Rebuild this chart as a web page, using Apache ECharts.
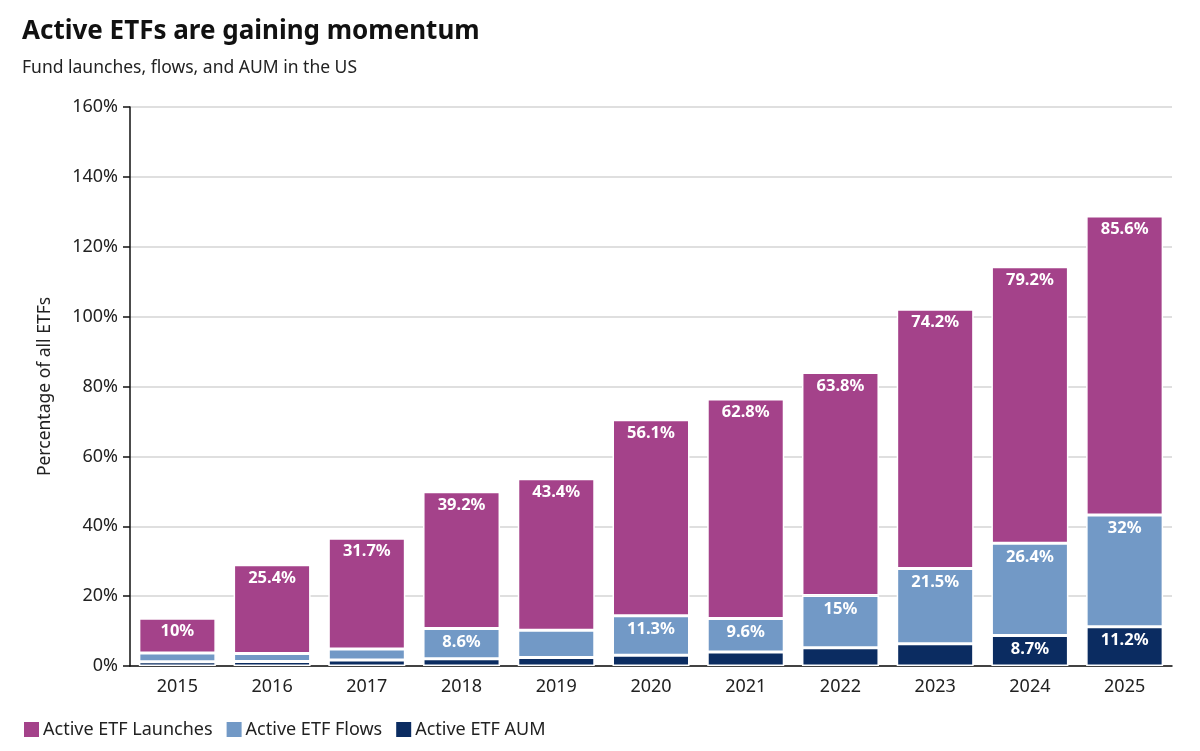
<!DOCTYPE html>
<html>
<head>
<meta charset="utf-8">
<script src="https://cdn.jsdelivr.net/npm/echarts@6/dist/echarts.min.js"></script>
<style>
html,body{margin:0;padding:0;background:#fff;}
#chart{width:1200px;height:751px;}
</style>
</head>
<body>
<div id="chart"></div>
<script>
const years = ['2015','2016','2017','2018','2019','2020','2021','2022','2023','2024','2025'];
const aum = [1.2, 1.3, 1.7, 2.1, 2.4, 3.1, 4.0, 5.2, 6.4, 8.7, 11.2];
const flows = [2.5, 2.3, 3.2, 8.6, 7.8, 11.3, 9.6, 15, 21.5, 26.4, 32];
const launches = [10, 25.4, 31.7, 39.2, 43.4, 56.1, 62.8, 63.8, 74.2, 79.2, 85.6];
const aumLabelled = [false,false,false,false,false,false,false,false,false,true,true];
const flowsLabelled = [false,false,false,true,false,true,true,true,true,true,true];
const yTicks = [0,20,40,60,80,100,120,140,160];

const FONT = '"Noto Sans", "Open Sans", sans-serif';
const chart = echarts.init(document.getElementById('chart'));

function seriesData(vals, shown) {
  return vals.map((v, i) => ({
    value: v,
    label: { show: shown ? shown[i] : true }
  }));
}
const labelStyle = {
  position: 'insideTop',
  distance: 5,
  color: '#fff',
  fontSize: 16.5,
  fontWeight: 'bold',
  fontFamily: FONT,
  formatter: p => p.value + '%'
};
const itemBase = { borderColor: '#fff', borderWidth: 1.5 };

chart.setOption({
  animation: false,
  backgroundColor: '#fff',
  title: [
    { text: 'Active ETFs are gaining momentum', left: 17, top: 14,
      textStyle: { fontFamily: FONT, fontSize: 26, fontWeight: 'bold', color: '#111' } },
    { text: 'Fund launches, flows, and AUM in the US', left: 17, top: 54,
      textStyle: { fontFamily: FONT, fontSize: 17.5, fontWeight: 'normal', color: '#222' } }
  ],
  legend: {
    left: 17, top: 715,
    itemWidth: 17, itemHeight: 17, itemGap: 12,
    icon: 'rect',
    textStyle: { fontFamily: FONT, fontSize: 18, color: '#222', padding: [0,0,0,-2] },
    data: ['Active ETF Launches', 'Active ETF Flows', 'Active ETF AUM']
  },
  grid: { left: 130, right: 28, top: 107, bottom: 85, containLabel: false },
  xAxis: {
    type: 'category',
    data: years,
    axisLine: { lineStyle: { color: '#111', width: 1.5 } },
    axisTick: { alignWithLabel: true, length: 7, lineStyle: { color: '#111', width: 1.5 } },
    axisLabel: { fontFamily: FONT, fontSize: 18, color: '#222', margin: 12 }
  },
  yAxis: {
    type: 'value',
    min: yTicks[0], max: yTicks[yTicks.length-1], interval: 20,
    name: 'Percentage of all ETFs',
    nameLocation: 'middle',
    nameGap: 76,
    nameTextStyle: { fontFamily: FONT, fontSize: 17.5, color: '#222' },
    axisLine: { show: true, lineStyle: { color: '#111', width: 1.5 } },
    axisTick: { show: true, length: 7, lineStyle: { color: '#111', width: 1.5 } },
    axisLabel: { fontFamily: FONT, fontSize: 18, color: '#222', margin: 12, formatter: '{value}%' },
    splitLine: { lineStyle: { color: '#d4d4d4', width: 1.5 } }
  },
  series: [
    { name: 'Active ETF AUM', type: 'bar', stack: 'all', barWidth: 77,
      itemStyle: Object.assign({ color: '#0b2c61' }, itemBase),
      label: labelStyle, data: seriesData(aum, aumLabelled) },
    { name: 'Active ETF Flows', type: 'bar', stack: 'all', barWidth: 77,
      itemStyle: Object.assign({ color: '#7299c6' }, itemBase),
      label: labelStyle, data: seriesData(flows, flowsLabelled) },
    { name: 'Active ETF Launches', type: 'bar', stack: 'all', barWidth: 77,
      itemStyle: Object.assign({ color: '#a4428a' }, itemBase),
      label: labelStyle, data: seriesData(launches) }
  ]
});
</script>
</body>
</html>
